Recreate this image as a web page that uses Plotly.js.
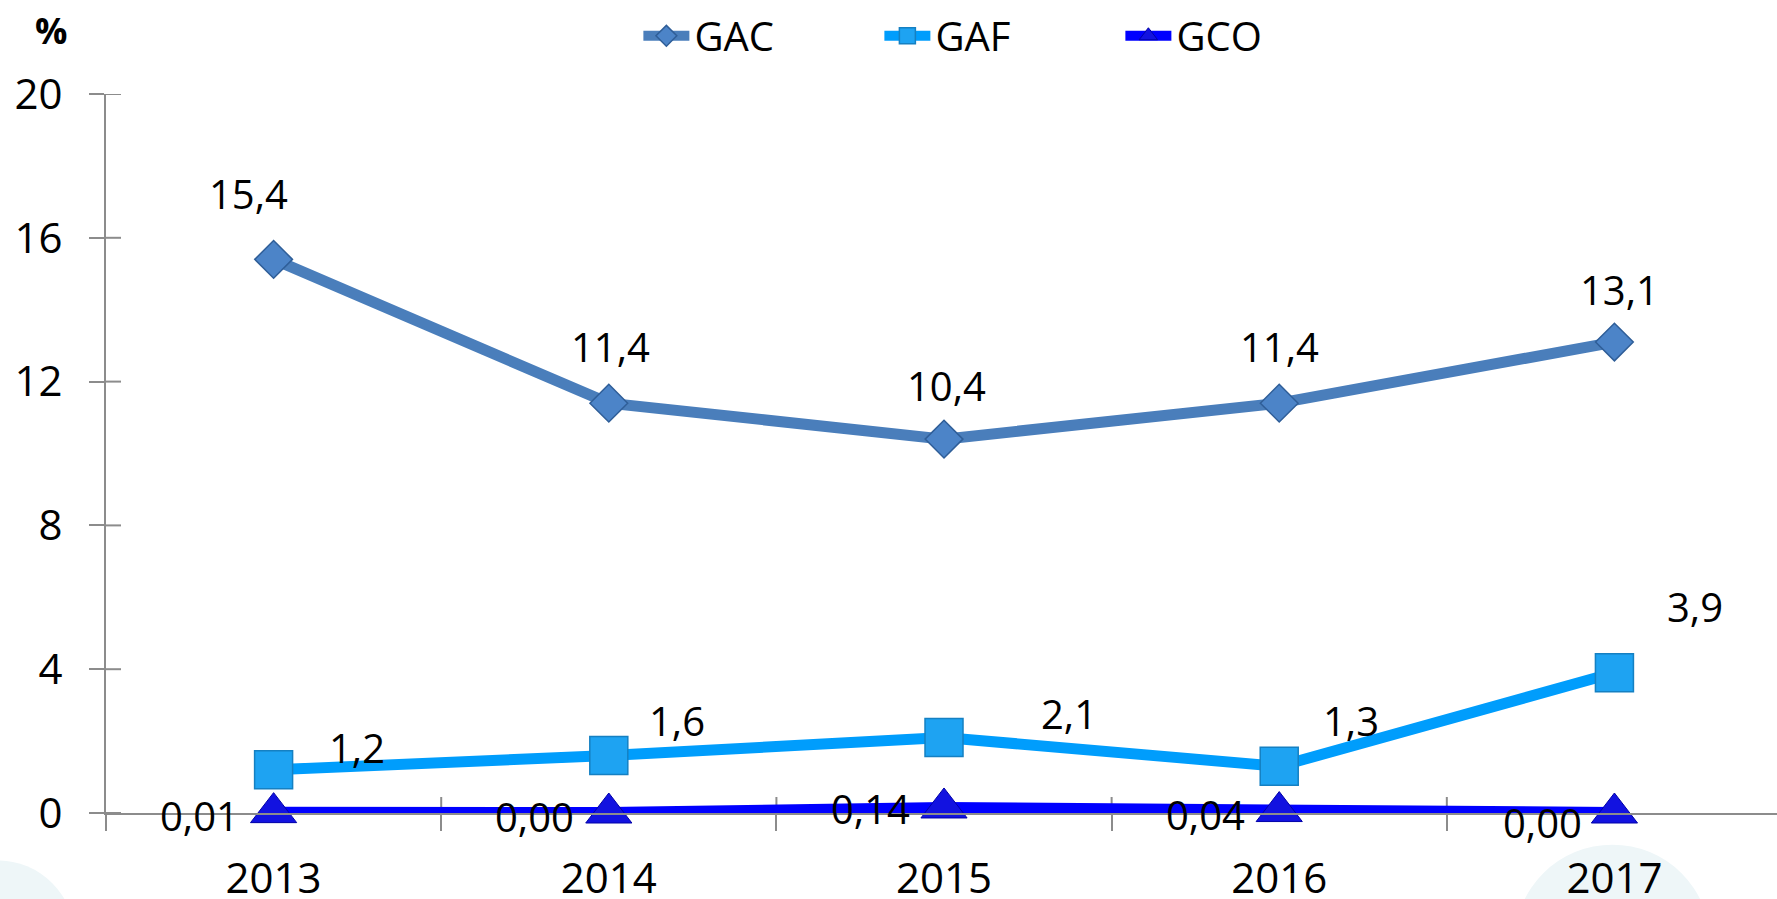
<!DOCTYPE html>
<html>
<head>
<meta charset="utf-8">
<script src="https://cdn.plot.ly/plotly-3.0.1.min.js"></script>
<style>html,body{margin:0;padding:0;background:#fff;}#chart{width:1777px;height:899px;}</style>
</head>
<body>
<div id="chart"></div>
<script>
// ---- data ----
var years = ['2013', '2014', '2015', '2016', '2017'];
var gac = [15.4, 11.4, 10.4, 11.4, 13.1];
var gaf = [1.2, 1.6, 2.1, 1.3, 3.9];
var gco = [0.01, 0.00, 0.14, 0.04, 0.00];
var gacLabels = ['15,4', '11,4', '10,4', '11,4', '13,1'];
var gafLabels = ['1,2', '1,6', '2,1', '1,3', '3,9'];
var gcoLabels = ['0,01', '0,00', '0,14', '0,04', '0,00'];
var seriesNames = ['GAC', 'GAF', 'GCO'];
var yTicks = [0, 4, 8, 12, 16, 20];

// ---- label offsets (style, px) ----
var gacShift = [[-25, 66], [2, 57], [2, 54], [0, 57], [5, 53]];
var gafShift = [[83, 22], [68, 35], [125, 24], [72, 46], [81, 66]];
var gcoShift = [[-74, -3], [-74, -3], [-74, -1], [-74, -3], [-72, -9]];

var FONT = 'Open Sans, Noto Sans, sans-serif';
var PLOT_W = 1671, PLOT_H = 719;

var traces = [
  {
    x: years, y: gac, name: seriesNames[0], type: 'scatter', mode: 'lines+markers',
    cliponaxis: false,
    line: {color: '#4A7EBB', width: 11},
    marker: {symbol: 'diamond', size: 29, color: '#4C84C8', line: {color: '#2F5E98', width: 1.5}}
  },
  {
    x: years, y: gaf, name: seriesNames[1], type: 'scatter', mode: 'lines+markers',
    cliponaxis: false,
    line: {color: '#009DFC', width: 11},
    marker: {symbol: 'square', size: 38, color: '#1EA3F2', line: {color: '#1580C2', width: 1.5}}
  },
  {
    x: years, y: gco, name: seriesNames[2], type: 'scatter', mode: 'lines+markers',
    cliponaxis: false,
    line: {color: '#0000FF', width: 12},
    marker: {symbol: 'triangle-up', size: 40, color: '#1212E0', line: {color: '#0000A8', width: 1}}
  }
];

var annotations = [];
function addLabels(vals, labels, shifts) {
  for (var i = 0; i < years.length; i++) {
    annotations.push({
      x: i, y: vals[i], xref: 'x', yref: 'y', text: labels[i], showarrow: false,
      xanchor: 'center', yanchor: 'middle',
      xshift: shifts[i][0], yshift: shifts[i][1],
      font: {family: FONT, size: 40, color: '#000'}
    });
  }
}
addLabels(gac, gacLabels, gacShift);
addLabels(gaf, gafLabels, gafShift);
addLabels(gco, gcoLabels, gcoShift);

annotations.push({
  xref: 'paper', yref: 'paper', x: -0.033, y: 1.089, text: '<b>%</b>', showarrow: false,
  xanchor: 'center', yanchor: 'middle', font: {family: FONT, size: 36, color: '#000'}
});

var axisGrey = '#8C8C8C';

// decorative background blobs and the inner halves of the crossing tick marks
var shapes = [
  {type: 'circle', xref: 'paper', yref: 'paper', x0: -0.111, x1: -0.0186, y0: -0.282, y1: -0.066,
   fillcolor: '#EEF6F8', line: {width: 0}, layer: 'below'},
  {type: 'circle', xref: 'paper', yref: 'paper', x0: 0.843, x1: 0.960, y0: -0.315, y1: -0.044,
   fillcolor: '#EEF6F8', line: {width: 0}, layer: 'below'}
];
for (var b = 1; b < years.length; b++) {
  shapes.push({type: 'line', xref: 'x', yref: 'paper', x0: b - 0.5, x1: b - 0.5, y0: 0, y1: 16 / PLOT_H,
    line: {color: axisGrey, width: 2}, layer: 'below'});
}
yTicks.forEach(function (t) {
  shapes.push({type: 'line', xref: 'paper', yref: 'y', x0: 0, x1: 15 / PLOT_W, y0: t, y1: t,
    line: {color: axisGrey, width: 2}, layer: 'below'});
});

var layout = {
  width: 1777, height: 899,
  margin: {l: 106, r: 0, t: 94, b: 86, pad: 0},
  paper_bgcolor: '#FFFFFF', plot_bgcolor: 'rgba(0,0,0,0)',
  font: {family: FONT, size: 42, color: '#000'},
  showlegend: true,
  legend: {
    orientation: 'h', x: 0.3186, xanchor: 'left', y: 1.081, yanchor: 'middle',
    font: {family: FONT, size: 40, color: '#000'},
    entrywidth: 180, itemwidth: 46, bgcolor: 'rgba(0,0,0,0)'
  },
  xaxis: {
    type: 'category', range: [-0.5, 4.485], fixedrange: true,
    showline: true, linecolor: axisGrey, linewidth: 2,
    showgrid: false, zeroline: false,
    ticks: 'outside', ticklen: 16, tickwidth: 2, tickcolor: axisGrey,
    tickson: 'boundaries', ticklabelstandoff: 28,
    tickfont: {family: FONT, size: 42, color: '#000'}
  },
  yaxis: {
    range: [0, 20], tickvals: yTicks, fixedrange: true,
    showline: true, linecolor: axisGrey, linewidth: 2,
    showgrid: false, zeroline: false,
    ticks: 'outside', ticklen: 15, tickwidth: 2, tickcolor: axisGrey,
    ticklabelstandoff: 18,
    tickfont: {family: FONT, size: 42, color: '#000'}
  },
  shapes: shapes,
  annotations: annotations
};

Plotly.newPlot('chart', traces, layout, {staticPlot: true, displayModeBar: false});
</script>
</body>
</html>
